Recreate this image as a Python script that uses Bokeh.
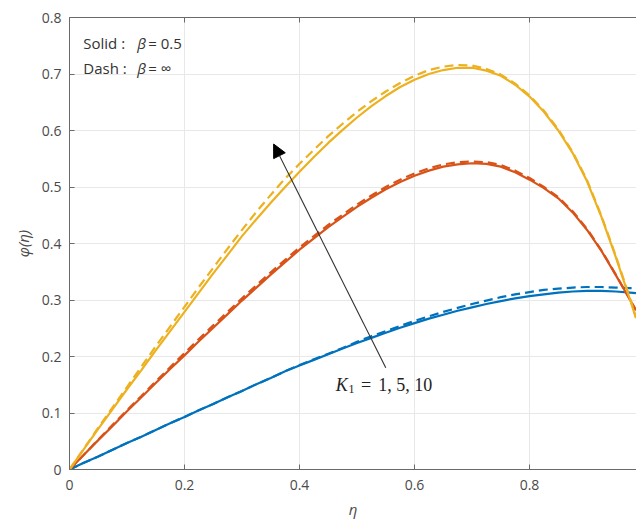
from bokeh.plotting import figure
from bokeh.models import (LinearAxis, FixedTicker, NumeralTickFormatter, Arrow,
                          NormalHead, Label, Range1d)
from bokeh.embed import file_html
from bokeh.resources import INLINE

# eta grid where the profiles are sampled
eta = [0.0, 0.025, 0.05, 0.075, 0.1, 0.125, 0.15, 0.175, 0.2, 0.225, 0.25,
       0.275, 0.3, 0.325, 0.35, 0.375, 0.4, 0.425, 0.45, 0.475, 0.5,
       0.525, 0.55, 0.575, 0.6, 0.625, 0.65, 0.675, 0.7, 0.725, 0.75,
       0.775, 0.8, 0.825, 0.85, 0.875, 0.9, 0.925, 0.95, 0.975, 0.985]

# phi(eta) for K1 = 1, 5, 10 ; solid: beta = 0.5, dashed: beta = infinity
phi_k1_solid = [0.0, 0.012, 0.023, 0.035, 0.047, 0.058, 0.070, 0.082, 0.093, 0.105, 0.116,
                0.128, 0.139, 0.151, 0.162, 0.174, 0.184, 0.194, 0.204, 0.214, 0.224,
                0.233, 0.242, 0.251, 0.259, 0.267, 0.274, 0.281, 0.287, 0.293, 0.298,
                0.303, 0.307, 0.310, 0.313, 0.315, 0.316, 0.316, 0.315, 0.313, 0.312]
phi_k1_dash = [0.0, 0.012, 0.023, 0.035, 0.047, 0.058, 0.070, 0.082, 0.093, 0.105, 0.116,
               0.128, 0.139, 0.151, 0.162, 0.174, 0.185, 0.195, 0.205, 0.215, 0.226,
               0.236, 0.245, 0.254, 0.263, 0.271, 0.279, 0.286, 0.293, 0.299, 0.305,
               0.310, 0.314, 0.318, 0.320, 0.322, 0.323, 0.323, 0.322, 0.321, 0.320]

phi_k5_solid = [0.0, 0.026, 0.052, 0.077, 0.103, 0.128, 0.153, 0.178, 0.202, 0.227, 0.251,
                0.275, 0.299, 0.322, 0.345, 0.367, 0.389, 0.409, 0.429, 0.447, 0.465,
                0.481, 0.496, 0.509, 0.520, 0.529, 0.536, 0.540, 0.542, 0.541, 0.536,
                0.526, 0.513, 0.498, 0.480, 0.455, 0.424, 0.387, 0.344, 0.300, 0.282]
phi_k5_dash = [0.0, 0.026, 0.053, 0.079, 0.105, 0.130, 0.156, 0.181, 0.206, 0.231, 0.255,
               0.279, 0.303, 0.326, 0.349, 0.371, 0.393, 0.413, 0.433, 0.451, 0.469,
               0.485, 0.500, 0.513, 0.524, 0.533, 0.540, 0.544, 0.545, 0.544, 0.539,
               0.529, 0.516, 0.500, 0.482, 0.457, 0.426, 0.388, 0.345, 0.300, 0.282]

phi_k10_solid = [0.0, 0.036, 0.072, 0.107, 0.142, 0.176, 0.211, 0.245, 0.279, 0.313, 0.347,
                 0.380, 0.413, 0.443, 0.472, 0.500, 0.527, 0.553, 0.578, 0.601, 0.623,
                 0.643, 0.661, 0.677, 0.690, 0.700, 0.707, 0.711, 0.711, 0.706, 0.697,
                 0.681, 0.660, 0.633, 0.600, 0.560, 0.510, 0.447, 0.376, 0.300, 0.268]
phi_k10_dash = [0.0, 0.037, 0.074, 0.110, 0.146, 0.182, 0.218, 0.253, 0.288, 0.323, 0.357,
                0.391, 0.424, 0.456, 0.486, 0.515, 0.541, 0.566, 0.590, 0.612, 0.633,
                0.652, 0.669, 0.684, 0.697, 0.707, 0.713, 0.716, 0.715, 0.709, 0.699,
                0.683, 0.662, 0.635, 0.602, 0.562, 0.512, 0.449, 0.378, 0.302, 0.270]

x_ticks = [0, 0.2, 0.4, 0.6, 0.8, 1.0]
y_ticks = [0, 0.1, 0.2, 0.3, 0.4, 0.5, 0.6, 0.7, 0.8]

BLUE = "#0072BD"
RED = "#D95319"
YELLOW = "#EDB120"
AXIS = "#6a6a6a"
TICKTXT = "#4a4a4a"
FONT = "Open Sans"

p = figure(width=636, height=521, output_backend="svg", toolbar_location=None,
           x_range=Range1d(0, 0.986), y_range=Range1d(0, 0.8),
           min_border_left=69, min_border_right=0, min_border_top=17,
           min_border_bottom=51)
p.outline_line_color = None
p.background_fill_color = "white"
p.border_fill_color = "white"

for ax, ticks in ((p.xaxis[0], x_ticks), (p.yaxis[0], y_ticks)):
    ax.ticker = FixedTicker(ticks=ticks)
    ax.formatter = NumeralTickFormatter(format="0.[0]")
    ax.major_tick_in = 5
    ax.major_tick_out = 0
    ax.minor_tick_line_color = None
    ax.axis_line_color = AXIS
    ax.major_tick_line_color = AXIS
    ax.major_label_text_font = FONT
    ax.major_label_text_font_size = "14px"
    ax.major_label_text_color = TICKTXT
    ax.axis_label_text_font = FONT
    ax.axis_label_text_font_size = "15px"
    ax.axis_label_text_font_style = "italic"
    ax.axis_label_text_color = TICKTXT

p.xaxis.major_label_standoff = 10
p.yaxis.major_label_standoff = 8
p.xaxis.axis_label = "η"
p.yaxis.axis_label = "φ(η)"
p.xaxis.axis_label_standoff = 6
p.yaxis.axis_label_standoff = 6

# box line on top with inward ticks (minor ticks only, so no labels are drawn)
top = LinearAxis(ticker=FixedTicker(ticks=[], minor_ticks=x_ticks),
                 minor_tick_in=5, minor_tick_out=0, major_tick_line_color=None,
                 minor_tick_line_color=AXIS, axis_line_color=AXIS)
p.add_layout(top, "above")

p.grid.grid_line_color = "#e8e8e8"
p.grid.grid_line_width = 1
p.xgrid.ticker = FixedTicker(ticks=x_ticks)
p.ygrid.ticker = FixedTicker(ticks=y_ticks)

for solid, dash, color in ((phi_k1_solid, phi_k1_dash, BLUE),
                           (phi_k5_solid, phi_k5_dash, RED),
                           (phi_k10_solid, phi_k10_dash, YELLOW)):
    p.line(eta, solid, line_color=color, line_width=2.2)
    p.line(eta, dash, line_color=color, line_width=2.2, line_dash="9 5")

# arrow showing the direction of increasing K1
p.add_layout(Arrow(end=NormalHead(size=13, fill_color="black", line_color="black"),
                   x_start=0.55, y_start=0.18, x_end=0.355, y_end=0.576,
                   line_color="#333333", line_width=1.1))

SERIF = "Liberation Serif"
p.add_layout(Label(x=0.463, y=0.150, text="K", text_font=SERIF,
                   text_font_style="italic", text_font_size="18px",
                   text_baseline="middle", text_color="#222222"))
p.add_layout(Label(x=0.485, y=0.142, text="1", text_font=SERIF,
                   text_font_size="12px", text_baseline="middle", text_color="#222222"))
p.add_layout(Label(x=0.507, y=0.150, text="=", text_font=SERIF,
                   text_font_size="18px", text_baseline="middle", text_color="#222222"))
p.add_layout(Label(x=0.537, y=0.150, text="1, 5, 10", text_font=SERIF,
                   text_font_size="18px", text_baseline="middle", text_color="#222222"))

# line-style legend in the upper-left corner
for yy, name, val in ((0.754, "Solid :", "= 0.5"), (0.710, "Dash :", "= ∞")):
    p.add_layout(Label(x=0.024, y=yy, text=name, text_font=FONT, text_font_size="15px",
                       text_baseline="middle", text_color="#333333"))
    p.add_layout(Label(x=0.118, y=yy, text="β", text_font=FONT, text_font_size="15px",
                       text_font_style="italic", text_baseline="middle",
                       text_color="#333333"))
    p.add_layout(Label(x=0.137, y=yy, text=val, text_font=FONT, text_font_size="15px",
                       text_baseline="middle", text_color="#333333"))

open("out.html", "w").write(file_html(p, INLINE))
